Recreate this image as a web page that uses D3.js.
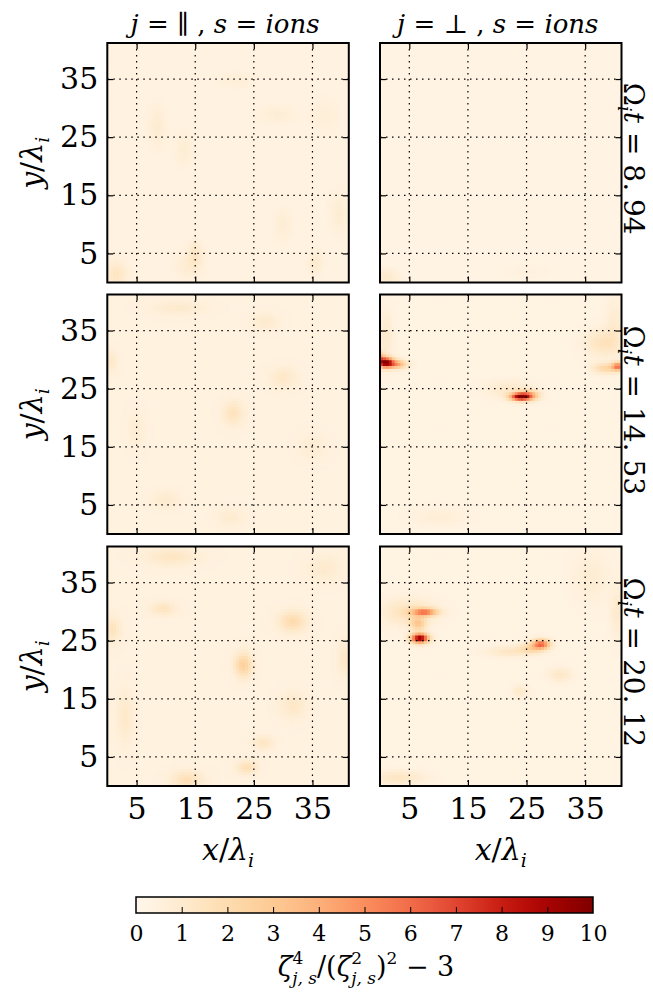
<!DOCTYPE html>
<html>
<head>
<meta charset="utf-8">
<script src="https://cdn.jsdelivr.net/npm/d3@7"></script>
<style>
  body { margin: 0; background: #fff; }
</style>
</head>
<body>
<div id="chart"></div>
<script>
// values
var components = ["\u2225", "\u22A5"];          // j = parallel, perpendicular
var times = ["8.94", "14.53", "20.12"];           // Omega_i t of each row
var axisTicks = [5, 15, 25, 35];
var cbarTicks = [0, 1, 2, 3, 4, 5, 6, 7, 8, 9, 10];
var boxSize = 41.2;                               // x/lambda_i and y/lambda_i extent

// background level of each panel [row][col]
var background = [[0.4, 0.3], [0.45, 0.35], [0.45, 0.35]];

// spots seen in each panel: [x, y, peak, sx, sy]
var spotsPar = [
  [[1.5, 1.5, 1.0, 1.2, 1.5], [15, 5, 0.8, 0.8, 1.5], [14, 3, 0.5, 1.5, 1.5], [35.5, 3.5, 0.7, 0.8, 1.2],
   [8.5, 27, 0.5, 1, 2.5], [13, 23, 0.4, 1, 2], [29, 29, 0.4, 2, 1], [30, 10, 0.4, 1, 2],
   [39.5, 12, 0.4, 1, 2.5], [37, 29, 0.3, 1.5, 2], [22, 35, 0.3, 2, 1]],
  [[21.5, 20.9, 1.1, 1.2, 1.4], [30, 27, 0.8, 1.5, 1.2], [0.5, 29.8, 0.8, 0.8, 1.2], [12, 39, 0.6, 3, 0.8],
   [27, 36.6, 0.6, 1.5, 1], [10, 6, 0.6, 1.5, 1], [21, 3, 0.5, 1.5, 1], [35, 15, 0.4, 1.5, 1.5],
   [5, 18, 0.4, 1, 2]],
  [[23.2, 20.9, 2.2, 1.0, 1.4], [31.6, 28.4, 1.6, 1.6, 1.2], [9.5, 30.6, 1.0, 1.5, 0.8], [23.8, 3.3, 1.3, 1.2, 0.8],
   [13.6, 1.2, 1.3, 1.8, 1.0], [26.6, 7.5, 0.9, 1.2, 0.8], [31.7, 13.9, 0.8, 1.5, 1.5], [0.8, 27, 1.1, 1, 1.5],
   [11, 39.5, 0.9, 3, 1], [3, 12, 0.7, 1, 3], [40.5, 22, 0.8, 0.8, 2], [37, 37.5, 0.6, 2, 1.5]]
];
var spotsPerp = [
  [[1, 1, 0.8, 1.5, 1], [25, 2, 0.2, 3, 1]],
  [[1.0, 29.6, 8.5, 0.9, 0.6], [2.8, 29.3, 4, 1.2, 0.5], [0.2, 30.2, 3, 0.4, 0.8], [40.6, 28.9, 5, 0.7, 0.5],
   [38.5, 28.6, 2, 1.5, 0.6], [38, 33, 1.2, 2, 1.5], [24.0, 23.7, 9.0, 1.2, 0.45], [25.5, 24.0, 3, 1.2, 0.6],
   [22, 25, 0.8, 2.5, 1], [40, 36, 0.6, 1, 3], [10, 3, 0.4, 3, 1], [1, 34, 0.7, 0.8, 3]],
  [[6.8, 25.5, 9.5, 1.0, 0.55], [7.6, 30.0, 5.0, 1.5, 0.45], [6.5, 28.0, 2.5, 0.9, 0.8], [5, 30, 1.3, 3, 1.5],
   [27.5, 24.5, 5.5, 1.0, 0.55], [26, 23.8, 2.0, 1.5, 0.6], [22, 23.2, 1.0, 2.5, 0.6], [30.7, 19.2, 0.9, 1.3, 0.8],
   [23.9, 16.4, 0.8, 0.9, 0.7], [3, 1.5, 1.0, 3, 0.8], [36, 36, 0.5, 2, 3], [40.5, 30, 0.7, 0.8, 3]]
];

var width = 653, height = 993;
var colX = [107.3, 380], rowY = [43, 294.5, 546.5];
var pw = 241.5, ph = 239.5;
var step = 0.5;
var serif = "DejaVu Serif, serif";

var color = d3.scaleSequential(d3.interpolateOrRd).domain([0, 10]);

var svg = d3.select("#chart").append("svg")
  .attr("width", width)
  .attr("height", height)
  .attr("viewBox", "0 0 " + width + " " + height);

// writes a line of math as tspans: [text, italic, dy, size, dx]
function mathText(g, parts, size) {
  var t = g.append("text").attr("font-family", serif).attr("font-size", size).attr("fill", "#000");
  parts.forEach(function (p) {
    t.append("tspan")
      .attr("font-style", p[1] ? "italic" : "normal")
      .attr("dy", p[2] || 0)
      .attr("dx", p[4] || 0)
      .attr("font-size", p[3] || size)
      .text(p[0]);
  });
  return t;
}

function field(spots, bg, x, y) {
  var v = bg;
  spots.forEach(function (s) {
    var dx = (x - s[0]) / s[3], dy = (y - s[1]) / s[4];
    v += s[2] * Math.exp(-0.5 * (dx * dx + dy * dy));
  });
  return Math.min(v, 10);
}

var grid = d3.range(0, boxSize, step);
var defs = svg.append("defs");

for (var r = 0; r < 3; r++) {
  for (var c = 0; c < 2; c++) {
    var x0 = colX[c], y0 = rowY[r];
    var xs = d3.scaleLinear().domain([0, boxSize]).range([x0, x0 + pw]);
    var ys = d3.scaleLinear().domain([0, boxSize]).range([y0 + ph, y0]);
    var spots = c == 0 ? spotsPar[r] : spotsPerp[r];
    var bg = background[r][c];

    var cells = [];
    grid.forEach(function (gx) {
      grid.forEach(function (gy) {
        cells.push({x: gx, y: gy, v: field(spots, bg, gx + step / 2, gy + step / 2)});
      });
    });

    var clipId = "clip" + r + c;
    defs.append("clipPath").attr("id", clipId)
      .append("rect").attr("x", x0).attr("y", y0).attr("width", pw).attr("height", ph);

    var g = svg.append("g");
    g.append("g").attr("clip-path", "url(#" + clipId + ")")
      .selectAll("rect").data(cells).enter().append("rect")
      .attr("x", function (d) { return xs(d.x); })
      .attr("y", function (d) { return ys(d.y + step); })
      .attr("width", xs(step) - xs(0) + 0.6)
      .attr("height", ys(0) - ys(step) + 0.6)
      .attr("fill", function (d) { return color(d.v); });

    // dotted grid
    g.selectAll("line.gx").data(axisTicks).enter().append("line")
      .attr("x1", function (d) { return xs(d); }).attr("x2", function (d) { return xs(d); })
      .attr("y1", y0).attr("y2", y0 + ph)
      .attr("stroke", "#000").attr("stroke-width", 1.2).attr("stroke-dasharray", "1.5,4.5");
    g.selectAll("line.gy").data(axisTicks).enter().append("line")
      .attr("y1", function (d) { return ys(d); }).attr("y2", function (d) { return ys(d); })
      .attr("x1", x0).attr("x2", x0 + pw)
      .attr("stroke", "#000").attr("stroke-width", 1.2).attr("stroke-dasharray", "1.5,4.5");

    // axes, ticks pointing in
    var axB = g.append("g").attr("transform", "translate(0," + (y0 + ph) + ")")
      .call(d3.axisBottom(xs).tickValues(axisTicks).tickSize(-6).tickPadding(12));
    var axT = g.append("g").attr("transform", "translate(0," + y0 + ")")
      .call(d3.axisTop(xs).tickValues(axisTicks).tickSize(-6).tickFormat(""));
    var axL = g.append("g").attr("transform", "translate(" + x0 + ",0)")
      .call(d3.axisLeft(ys).tickValues(axisTicks).tickSize(-6).tickPadding(9));
    var axR = g.append("g").attr("transform", "translate(" + (x0 + pw) + ",0)")
      .call(d3.axisRight(ys).tickValues(axisTicks).tickSize(-6).tickFormat(""));
    [axB, axT, axL, axR].forEach(function (a) {
      a.select(".domain").remove();
      a.attr("font-family", serif).attr("font-size", 30);
      a.selectAll("line").attr("stroke", "#000").attr("stroke-width", 1.2);
      a.selectAll("text").attr("fill", "#000");
    });
    if (r < 2) axB.selectAll("text").remove();
    if (c > 0) axL.selectAll("text").remove();

    g.append("rect").attr("x", x0).attr("y", y0).attr("width", pw).attr("height", ph)
      .attr("fill", "none").attr("stroke", "#000").attr("stroke-width", 2);
  }
}

// column titles
components.forEach(function (j, c) {
  var g = svg.append("g").attr("transform", "translate(" + (colX[c] + pw / 2 - 3) + ",33)");
  mathText(g, [["j", true], [" = ", false], [j, false], [" , ", false],
               ["s", true], [" = ", false], ["ions", true]], 26)
    .attr("text-anchor", "middle");
});

// row labels
times.forEach(function (t, r) {
  var parts = t.split(".");
  var g = svg.append("g")
    .attr("transform", "translate(624," + (rowY[r] + ph / 2 - 4) + ")rotate(90)");
  mathText(g, [["\u03A9", false], ["i", true, 6, 18], ["t", true, -6], [" = ", false],
               [parts[0] + ".", false], [parts[1], false, 0, null, 8]], 28)
    .attr("text-anchor", "middle");
});

// axis labels
rowY.forEach(function (y0) {
  var g = svg.append("g").attr("transform", "translate(42," + (y0 + ph / 2) + ")rotate(-90)");
  mathText(g, [["y", true], ["/", false], ["\u03BB", true], ["i", true, 7, 19]], 30)
    .attr("text-anchor", "middle");
});
colX.forEach(function (x0) {
  var g = svg.append("g").attr("transform", "translate(" + (x0 + pw / 2) + ",860)");
  mathText(g, [["x", true], ["/", false], ["\u03BB", true], ["i", true, 7, 19]], 30)
    .attr("text-anchor", "middle");
});

// colorbar
var cbX = 136, cbW = 457, cbY = 897, cbH = 16;
var cScale = d3.scaleLinear().domain([0, 10]).range([cbX, cbX + cbW]);
var grad = defs.append("linearGradient").attr("id", "cbar");
d3.range(0, 10.01, 0.5).forEach(function (v) {
  grad.append("stop").attr("offset", (v * 10) + "%").attr("stop-color", color(v));
});
svg.append("rect").attr("x", cbX).attr("y", cbY).attr("width", cbW).attr("height", cbH)
  .attr("fill", "url(#cbar)").attr("stroke", "#000").attr("stroke-width", 1.5);
var cAxis = svg.append("g").attr("transform", "translate(0," + (cbY + cbH) + ")")
  .call(d3.axisBottom(cScale).tickValues(cbarTicks).tickSize(-6).tickPadding(12));
cAxis.select(".domain").remove();
cAxis.attr("font-family", serif).attr("font-size", 22);
cAxis.selectAll("line").attr("stroke", "#000").attr("stroke-width", 1);
cAxis.selectAll("text").attr("fill", "#000");
cAxis.selectAll(".tick").filter(function (d) { return d == 0 || d == 10; }).select("line").remove();

var lg = svg.append("g").attr("transform", "translate(366,976)");
mathText(lg, [["\u03B6", true], ["4", false, -12, 17], ["j, s", true, 20, 17, -11],
              ["/(", false, -8], ["\u03B6", true], ["2", false, -12, 17], ["j, s", true, 20, 17, -11],
              [")", false, -8], ["2", false, -12, 17], [" \u2212 3", false, 12]], 27)
  .attr("text-anchor", "middle");
</script>
</body>
</html>
